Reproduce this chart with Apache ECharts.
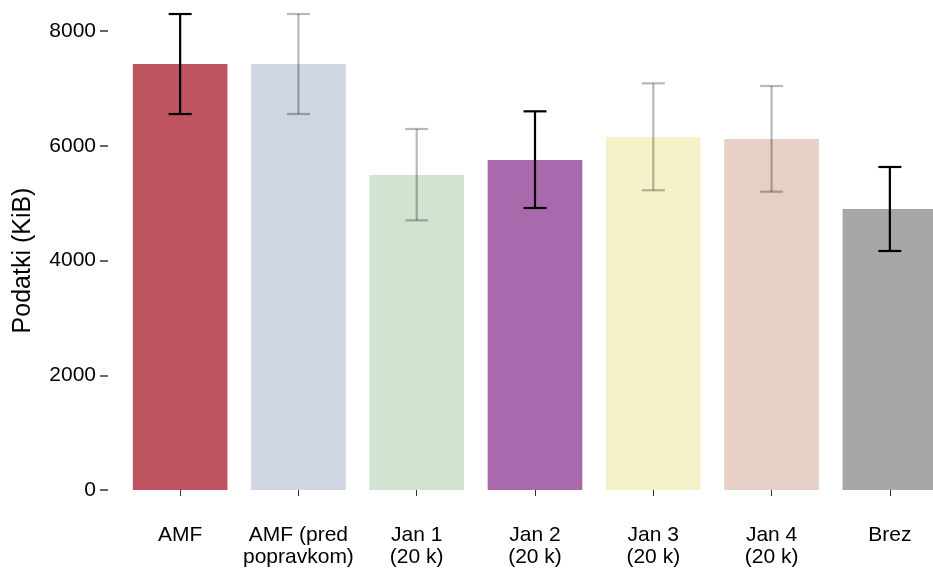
<!DOCTYPE html>
<html>
<head>
<meta charset="utf-8">
<script src="https://cdn.jsdelivr.net/npm/echarts@6/dist/echarts.min.js"></script>
<style>html,body{margin:0;padding:0;background:#fff}#c{width:933px;height:571px}</style>
</head>
<body>
<div id="c"></div>
<script>
const categories = ['AMF', 'AMF (pred\npopravkom)', 'Jan 1\n(20 k)', 'Jan 2\n(20 k)', 'Jan 3\n(20 k)', 'Jan 4\n(20 k)', 'Brez'];
const means = [7425, 7425, 5490, 5752, 6153, 6118, 4898];
const errLow = [6553, 6553, 4700, 4915, 5224, 5199, 4166];
const errHigh = [8296, 8296, 6292, 6600, 7088, 7041, 5630];
const yTicks = [0, 2000, 4000, 6000, 8000];

const barColors = ['#bf5461', '#cfd5e3', '#d3e3d1', '#a96aad', '#f5f1c8', '#e6cfc4', '#a7a7a7'];
const errColors = ['#000', 'rgba(0,0,0,0.28)', 'rgba(0,0,0,0.28)', '#000', 'rgba(0,0,0,0.28)', 'rgba(0,0,0,0.28)', '#000'];

const font = 'Liberation Sans, Arial, sans-serif';
const chart = echarts.init(document.getElementById('c'), null, {renderer: 'canvas'});
chart.setOption({
  animation: false,
  grid: {left: 121, top: 31, width: 828, height: 459, containLabel: false, outerBoundsMode: 'none'},
  xAxis: {
    type: 'category',
    data: categories,
    offset: 23,
    axisLine: {show: false},
    axisTick: {show: true, alignWithLabel: true, length: 6, lineStyle: {color: '#333', width: 1}},
    axisLabel: {color: '#000', fontSize: 21, fontFamily: font, lineHeight: 22, margin: 11, interval: 0}
  },
  yAxis: {
    type: 'value',
    min: 0, max: 8000, interval: 2000,
    offset: 13,
    name: 'Podatki (KiB)',
    nameLocation: 'middle',
    nameRotate: 90,
    nameGap: 72,
    nameTextStyle: {color: '#000', fontSize: 25, fontFamily: font},
    axisLine: {show: false},
    axisTick: {show: true, length: 8, lineStyle: {color: '#333', width: 1.5}},
    splitLine: {show: false},
    axisLabel: {color: '#000', fontSize: 21, fontFamily: font, margin: 12,
      formatter: v => yTicks.includes(v) ? String(v) : ''}
  },
  series: [
    {
      type: 'bar',
      data: means.map((v, i) => ({value: v, itemStyle: {color: barColors[i]}})),
      barCategoryGap: '20%'
    },
    {
      type: 'custom',
      clip: false,
      z: 5,
      data: categories.map((c, i) => [i, errLow[i], errHigh[i]]),
      renderItem: function (params, api) {
        const i = api.value(0);
        const lo = api.coord([i, api.value(1)]);
        const hi = api.coord([i, api.value(2)]);
        const hw = 11.5;
        const style = {stroke: errColors[i], lineWidth: 2.2, fill: null};
        return {
          type: 'group',
          children: [
            {type: 'line', shape: {x1: lo[0], y1: lo[1], x2: hi[0], y2: hi[1]}, style},
            {type: 'line', shape: {x1: lo[0] - hw, y1: lo[1], x2: lo[0] + hw, y2: lo[1]}, style},
            {type: 'line', shape: {x1: hi[0] - hw, y1: hi[1], x2: hi[0] + hw, y2: hi[1]}, style}
          ]
        };
      }
    }
  ]
});
</script>
</body>
</html>
